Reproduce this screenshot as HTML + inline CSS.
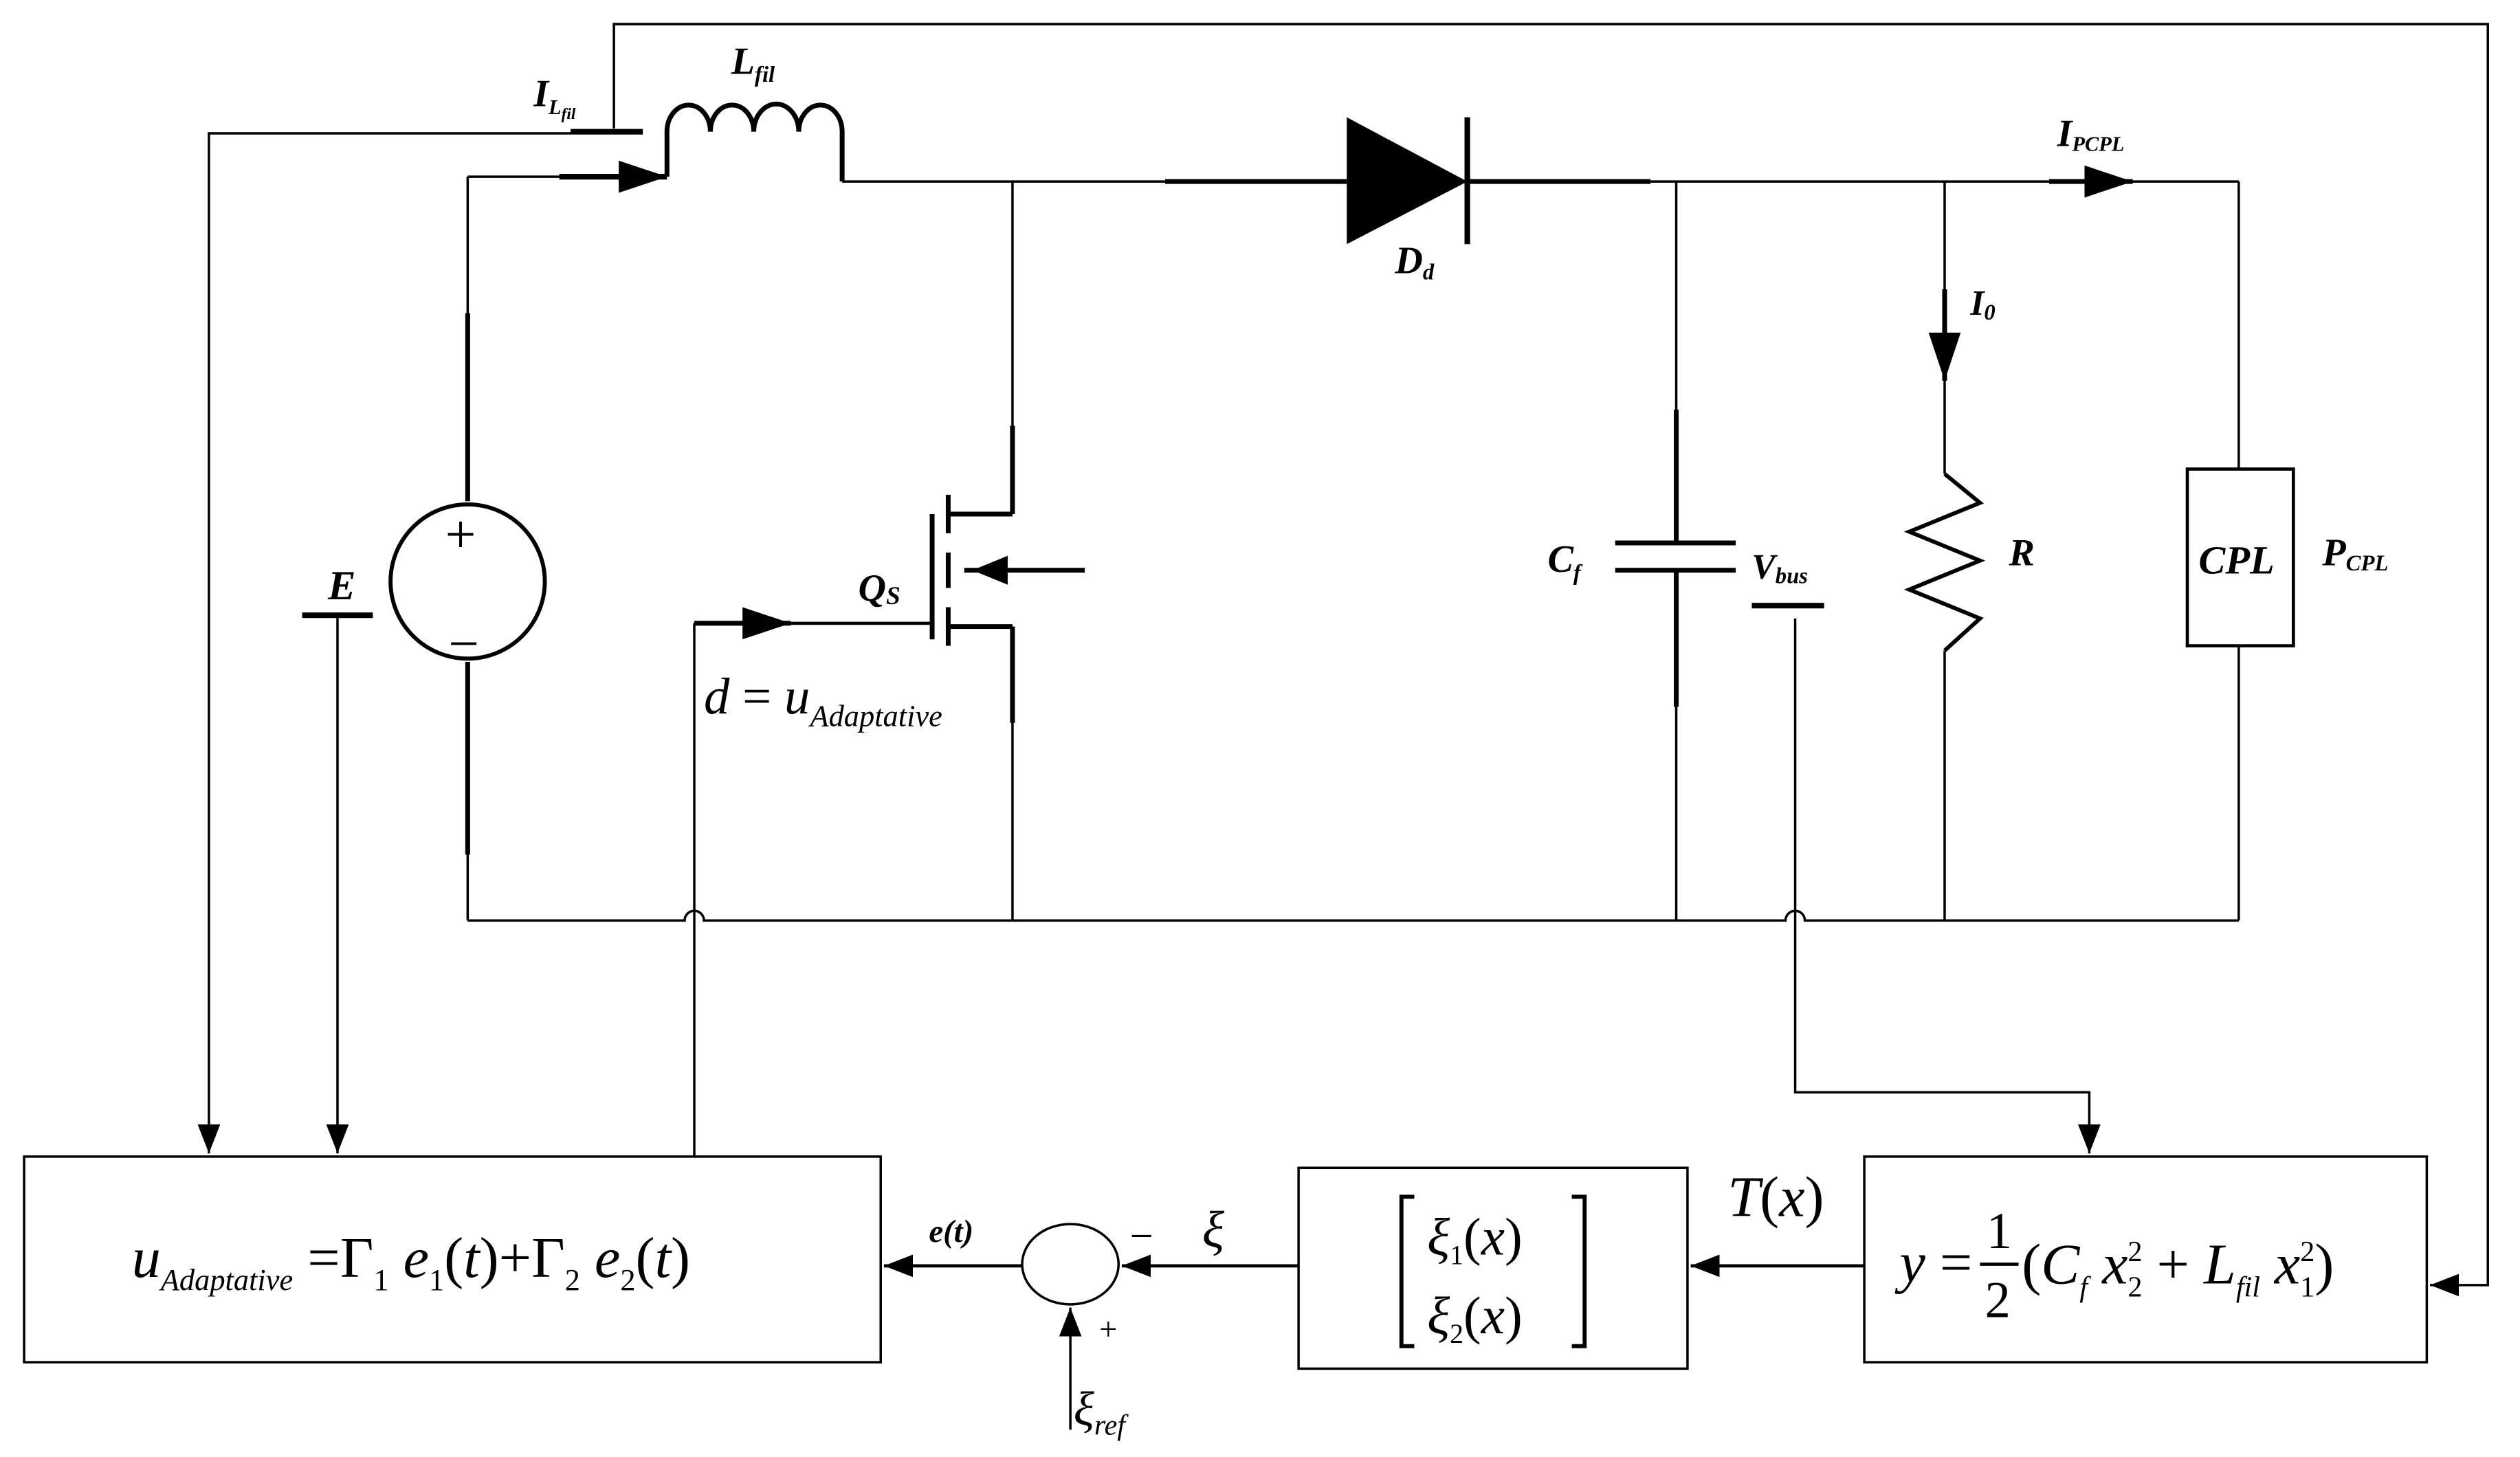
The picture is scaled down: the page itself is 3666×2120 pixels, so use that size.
<!DOCTYPE html>
<html><head><meta charset="utf-8"><style>
html,body{margin:0;padding:0;background:#fff;}
svg{display:block;}
text{font-family:"Liberation Serif",serif;fill:#000;}
.b{font-weight:bold;font-style:italic;}
.i{font-style:italic;}
</style></head><body>
<svg width="3666" height="2120" viewBox="0 0 1568 907" preserveAspectRatio="none" xmlns="http://www.w3.org/2000/svg">
<defs>
<marker id="arb" markerWidth="18" markerHeight="14" refX="18" refY="7" orient="auto" markerUnits="userSpaceOnUse">
<path d="M0,0 L18,7 L0,14 Z" fill="#000"/></marker>
<marker id="arc" markerWidth="30" markerHeight="20" refX="30" refY="10" orient="auto" markerUnits="userSpaceOnUse">
<path d="M0,0 L30,10 L0,20 Z" fill="#000"/></marker>
</defs>
<g stroke="#000" fill="none" stroke-width="1.5">
<polyline points="382,80 382,15 1548,15 1548,800 1512,800" marker-end="url(#arb)"/>
<line x1="355" y1="82" x2="400" y2="82" stroke-width="3.5"/>
<polyline points="355,83 130,83 130,718" marker-end="url(#arb)"/>
<line x1="348" y1="110" x2="415" y2="110" stroke-width="3.5" marker-end="url(#arc)"/>
<line x1="291" y1="110" x2="350" y2="110"/>
<path d="M415,110 L415,82 A13,16 0 0 1 442,82 A13,16 0 0 1 469,82 A13,16 0 0 1 497,82 A13,16 0 0 1 524,82 L524,113" stroke-width="3"/>
<line x1="524" y1="113" x2="725" y2="113"/>
<line x1="725" y1="113" x2="838" y2="113" stroke-width="3"/>
<line x1="913" y1="113" x2="1027" y2="113" stroke-width="3"/>
<line x1="1027" y1="113" x2="1393" y2="113"/>
<line x1="913" y1="73" x2="913" y2="152" stroke-width="3.5"/>
<line x1="630" y1="113" x2="630" y2="265"/>
<line x1="630" y1="265" x2="630" y2="320" stroke-width="3"/>
<line x1="590" y1="320" x2="630" y2="320" stroke-width="3"/>
<line x1="590" y1="308" x2="590" y2="332" stroke-width="3"/>
<line x1="590" y1="344" x2="590" y2="366" stroke-width="3"/>
<line x1="590" y1="378" x2="590" y2="402" stroke-width="3"/>
<line x1="580" y1="320" x2="580" y2="398" stroke-width="3"/>
<line x1="590" y1="390" x2="630" y2="390" stroke-width="3"/>
<line x1="630" y1="390" x2="630" y2="450" stroke-width="3"/>
<line x1="630" y1="450" x2="630" y2="573"/>
<line x1="600" y1="355" x2="675" y2="355" stroke-width="3"/>
<line x1="432" y1="388" x2="492" y2="388" stroke-width="3" marker-end="url(#arc)"/>
<line x1="490" y1="388" x2="580" y2="388" stroke-width="2"/>
<circle cx="291" cy="362" r="48" stroke-width="2.5"/>
<line x1="291" y1="110" x2="291" y2="195"/>
<line x1="291" y1="195" x2="291" y2="312" stroke-width="3"/>
<line x1="291" y1="412" x2="291" y2="532" stroke-width="3"/>
<line x1="291" y1="532" x2="291" y2="573"/>
<line x1="188" y1="383" x2="232" y2="383" stroke-width="3.5"/>
<line x1="210" y1="383" x2="210" y2="718" marker-end="url(#arb)"/>
<path d="M291,573 L426,573 A6,6 0 0 1 438,573 L1111,573 A6,6 0 0 1 1123,573 L1393,573"/>
<line x1="1043" y1="113" x2="1043" y2="255"/>
<line x1="1043" y1="255" x2="1043" y2="338" stroke-width="3"/>
<line x1="1005" y1="338" x2="1080" y2="338" stroke-width="3"/>
<line x1="1005" y1="355" x2="1080" y2="355" stroke-width="3"/>
<line x1="1043" y1="355" x2="1043" y2="440" stroke-width="3"/>
<line x1="1043" y1="440" x2="1043" y2="573"/>
<line x1="1090" y1="377" x2="1135" y2="377" stroke-width="3.5"/>
<polyline points="1117,385 1117,680 1300,680 1300,718" marker-end="url(#arb)"/>
<line x1="1210" y1="113" x2="1210" y2="205"/>
<line x1="1210" y1="180" x2="1210" y2="237" stroke-width="3" marker-end="url(#arc)"/>
<line x1="1210" y1="237" x2="1210" y2="295"/>
<polyline points="1210,295 1232,313 1188,331 1232,349 1188,367 1232,385 1210,405" stroke-width="2.5"/>
<line x1="1210" y1="405" x2="1210" y2="573"/>
<line x1="1393" y1="113" x2="1393" y2="292"/>
<rect x="1361" y="292" width="66" height="110" stroke-width="2"/>
<line x1="1393" y1="402" x2="1393" y2="573"/>
<line x1="1275" y1="113" x2="1327" y2="113" stroke-width="3" marker-end="url(#arc)"/>
<line x1="432" y1="388" x2="432" y2="720"/>
<rect x="15" y="720" width="533" height="128" stroke-width="1.5"/>
<rect x="808" y="727" width="242" height="125" stroke-width="1.5"/>
<rect x="1160" y="720" width="350" height="128" stroke-width="1.5"/>
<ellipse cx="666" cy="787" rx="30" ry="25" stroke-width="1.5"/>
<line x1="1160" y1="788" x2="1052" y2="788" stroke-width="2" marker-end="url(#arb)"/>
<line x1="808" y1="788" x2="698" y2="788" stroke-width="2" marker-end="url(#arb)"/>
<line x1="636" y1="788" x2="550" y2="788" stroke-width="2" marker-end="url(#arb)"/>
<line x1="666" y1="890" x2="666" y2="814" stroke-width="1.5" marker-end="url(#arb)"/>
</g>
<path d="M838,73 L913,113 L838,152 Z" fill="#000"/>
<path d="M605,355 L627,346 L627,364 Z" fill="#000"/>
<text x="332" y="66" class="b" font-size="24">I<tspan font-size="13" dy="5">L</tspan><tspan font-size="10" dy="3">fil</tspan></text>
<text x="455" y="46" class="b" font-size="24">L<tspan font-size="14" dy="5">fil</tspan></text>
<text x="868" y="170" class="b" font-size="24">D<tspan font-size="14" dy="4">d</tspan></text>
<text x="1280" y="91" class="b" font-size="24">I<tspan font-size="13" dy="3">PCPL</tspan></text>
<text x="1226" y="196" class="b" font-size="22">I<tspan font-size="14" dy="3">0</tspan></text>
<text x="1250" y="352" class="b" font-size="24">R</text>
<text x="1368" y="357" class="b" font-size="25">CPL</text>
<text x="1445" y="352" class="b" font-size="24">P<tspan font-size="14" dy="3">CPL</tspan></text>
<text x="963" y="356" class="b" font-size="24">C<tspan font-size="14" dy="5">f</tspan></text>
<text x="1090" y="360" class="b" font-size="22">V<tspan font-size="14" dy="3">bus</tspan></text>
<text x="534" y="374" class="b" font-size="24">Q<tspan font-size="16" dy="2">S</tspan></text>
<text x="204" y="373" class="b" font-size="26">E</text>
<text x="277" y="344" font-size="34">+</text>
<text x="279" y="412" font-size="34">−</text>
<text x="438" y="444" class="i" font-size="32">d<tspan font-style="normal"> = </tspan>u<tspan font-size="19" dy="8">Adaptative</tspan></text>
<text x="82" y="795" class="i" font-size="36">u<tspan font-size="19" dy="8">Adaptative</tspan><tspan font-style="normal" dy="-8" font-size="36"> =Γ</tspan><tspan font-style="normal" font-size="19" dy="8">1</tspan><tspan dy="-8"> e</tspan><tspan font-style="normal" font-size="19" dy="8">1</tspan><tspan font-style="normal" dy="-8">(</tspan>t<tspan font-style="normal">)+Γ</tspan><tspan font-style="normal" font-size="19" dy="8">2</tspan><tspan dy="-8"> e</tspan><tspan font-style="normal" font-size="19" dy="8">2</tspan><tspan font-style="normal" dy="-8">(</tspan>t<tspan font-style="normal">)</tspan></text>
<text x="578" y="773" class="b" font-size="20">e(t)</text>
<text x="703" y="778" font-size="26">−</text>
<text x="684" y="834" font-size="20">+</text>
<text x="748" y="776" class="i" font-size="32">ξ</text>
<text x="668" y="887" class="i" font-size="30">ξ<tspan font-size="18" dy="6">ref</tspan></text>
<text x="1075" y="757" class="i" font-size="36">T<tspan font-style="normal">(</tspan>x<tspan font-style="normal">)</tspan></text>
<g stroke="#000" stroke-width="2.5" fill="none">
<polyline points="880,745 872,745 872,838 880,838"/>
<polyline points="978,745 986,745 986,838 978,838"/>
</g>
<text x="888" y="781" class="i" font-size="33">ξ<tspan font-style="normal" font-size="17" dy="6">1</tspan><tspan font-style="normal" dy="-6">(</tspan>x<tspan font-style="normal">)</tspan></text>
<text x="888" y="830" class="i" font-size="33">ξ<tspan font-style="normal" font-size="17" dy="6">2</tspan><tspan font-style="normal" dy="-6">(</tspan>x<tspan font-style="normal">)</tspan></text>
<text x="1182" y="798" class="i" font-size="36">y<tspan font-style="normal"> =</tspan></text>
<text x="1236" y="777" font-size="32">1</text>
<line x1="1232" y1="787" x2="1256" y2="787" stroke="#000" stroke-width="2"/>
<text x="1235" y="820" font-size="32">2</text>
<text x="1258" y="799" class="i" font-size="36"><tspan font-style="normal">(</tspan>C<tspan font-size="18" dy="8">f</tspan><tspan dy="-8"> x</tspan><tspan font-style="normal" font-size="18" dy="-14">2</tspan><tspan font-style="normal" font-size="18" dx="-9" dy="22">2</tspan><tspan font-style="normal" dy="-8"> + </tspan>L<tspan font-size="18" dy="8">fil</tspan><tspan dy="-8"> x</tspan><tspan font-style="normal" font-size="18" dy="-14">2</tspan><tspan font-style="normal" font-size="18" dx="-9" dy="22">1</tspan><tspan font-style="normal" dy="-8">)</tspan></text>
</svg>
</body></html>
